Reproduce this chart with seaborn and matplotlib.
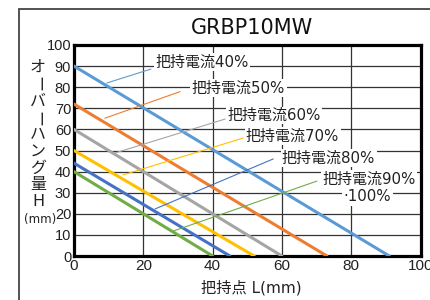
import matplotlib
matplotlib.use("Agg")
import matplotlib.pyplot as plt
import seaborn as sns
import pandas as pd
from matplotlib.patches import Rectangle

# ---- data ----
currents = ["40%", "50%", "60%", "70%", "80%", "90%"]
h_at_zero = [90, 72, 60, 50, 44, 40]       # overhang H at L=0
l_at_zero = [91, 73, 60, 52, 45, 40]       # grip point L where H=0
colors = ["#5b9bd5", "#ed7d31", "#a5a5a5", "#ffc000", "#4472c4", "#70ad47"]
label_texts = ["把持電流40%", "把持電流50%", "把持電流60%", "把持電流70%", "把持電流80%", "把持電流90%"]
label_x = [23.6, 34.0, 44.2, 49.6, 60.0, 71.6]
label_y = [92.0, 79.6, 66.6, 56.9, 46.4, 36.5]
leader_start_x = [9.5, 8.9, 11.8, 14.1, 23.4, 28.6]
leader_start_y = [82.0, 65.3, 48.8, 38.4, 22.3, 11.8]
leader_end_x = [22.2, 30.6, 43.6, 48.8, 57.5, 70.1]
leader_end_y = [88.6, 77.9, 64.9, 55.9, 46.0, 35.5]
xticks = [0, 20, 40, 60, 80, 100]
yticks = [0, 10, 20, 30, 40, 50, 60, 70, 80, 90, 100]
ylabel_chars = ["オ", "ー", "バ", "ー", "ハ", "ン", "グ", "量", "H"]
ylabel_ypix = [67, 84, 101, 119, 135, 152, 168, 184, 202]

rows = []
for c, h, l in zip(currents, h_at_zero, l_at_zero):
    rows.append({"current": c, "L": 0, "H": h})
    rows.append({"current": c, "L": l, "H": 0})
df = pd.DataFrame(rows)

sns.set_theme(style="white")
plt.rcParams["font.family"] = ["DejaVu Sans", "Noto Sans CJK JP"]

W, H = 430, 300
fig = plt.figure(figsize=(4.3, 3.0), dpi=100)
ax = fig.add_axes([74 / W, 1 - 256 / H, 346.5 / W, 211 / H])

# outer frame
fig.patches.append(Rectangle((19 / W, -0.2), 1.2, 1.2 - 9 / H, transform=fig.transFigure,
                             fill=False, edgecolor="#444444", linewidth=1.3, zorder=0))

sns.lineplot(data=df, x="L", y="H", hue="current", palette=colors, linewidth=2.2,
             legend=False, ax=ax, zorder=3, estimator=None, sort=False)

ax.set_xlim(0, 100)
ax.set_ylim(0, 100)
ax.set_xticks(xticks)
ax.set_yticks(yticks)
ax.set_xticklabels([str(v) for v in xticks], family="Liberation Sans", fontsize=11, color="#222222")
ax.set_yticklabels([str(v) for v in yticks], family="Liberation Sans", fontsize=10.5, color="#222222")
ax.tick_params(length=0, pad=2)
ax.set_xlabel("")
ax.set_ylabel("")

for v in [20, 40, 60, 80]:
    ax.axvline(v, color="#333333", linewidth=0.9, zorder=1)
for v in [10, 20, 30, 40, 50, 60, 70, 80, 90]:
    ax.axhline(v, color="#333333", linewidth=0.9, zorder=1)

for s in ax.spines.values():
    s.set_visible(True)
    s.set_color("black")
    s.set_linewidth(2.3)

for i in range(len(currents)):
    ax.plot([leader_start_x[i], leader_end_x[i]], [leader_start_y[i], leader_end_y[i]],
            color=colors[i], linewidth=0.8, zorder=4)
    ax.text(label_x[i], label_y[i], label_texts[i], fontsize=10.8, color="#222222",
            ha="left", va="center", zorder=5,
            bbox=dict(facecolor="white", edgecolor="none", pad=1.0))
ax.text(77.8, 28.0, "·100%", fontsize=10.8, color="#222222", ha="left", va="center", zorder=5,
        bbox=dict(facecolor="white", edgecolor="none", pad=1.0))

fig.text(251.5 / W, 1 - 28 / H, "GRBP10MW", fontsize=15, color="#111111", ha="center", va="center")
fig.text(251 / W, 1 - 288 / H, "把持点 L(mm)", fontsize=11, color="#222222", ha="center", va="center")

for ch, yp in zip(ylabel_chars, ylabel_ypix):
    rot = -90 if ch == "ー" else 0
    fig.text(38 / W, 1 - yp / H, ch, fontsize=11.5, color="#222222", ha="center", va="center", rotation=rot)
fig.text(40 / W, 1 - 219 / H, "(mm)", fontsize=8.5, color="#222222", ha="center", va="center")

fig.savefig("out.png", dpi=100)
